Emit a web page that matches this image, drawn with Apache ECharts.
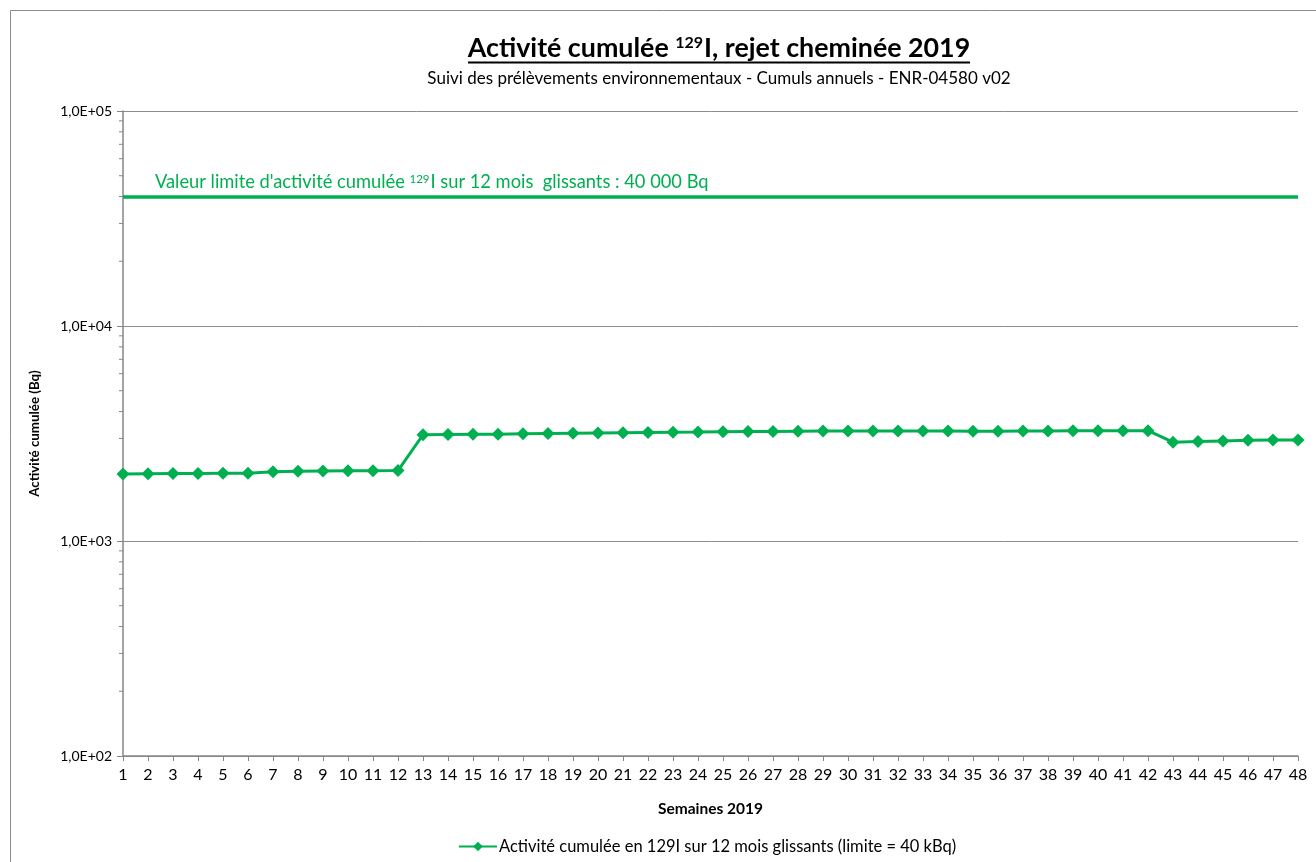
<!DOCTYPE html>
<html>
<head>
<meta charset="utf-8">
<script src="https://cdn.jsdelivr.net/npm/echarts@6/dist/echarts.min.js"></script>
<style>html,body{margin:0;padding:0;background:#fff}#c{width:1316px;height:862px}</style>
</head>
<body>
<div id="c"></div>
<script>
var weeks = [];
for (var i = 1; i <= 48; i++) weeks.push(String(i));
var activity = [2050, 2055, 2060, 2060, 2065, 2065, 2100, 2110, 2115, 2120, 2120, 2125,
  3120, 3130, 3135, 3140, 3150, 3160, 3170, 3180, 3190, 3200, 3205, 3210, 3220, 3230,
  3235, 3240, 3245, 3245, 3245, 3245, 3250, 3245, 3240, 3240, 3245, 3250, 3255, 3255,
  3255, 3260, 2880, 2900, 2920, 2940, 2950, 2950];
var limitValue = 40000;
var minorTickValues = [200, 300, 400, 500, 600, 700, 800, 900,
  2000, 3000, 4000, 5000, 6000, 7000, 8000, 9000,
  20000, 30000, 40000, 50000, 60000, 70000, 80000, 90000];

var GREEN = '#00B050';
var FONT = 'Lato, "Open Sans", sans-serif';
var chart = echarts.init(document.getElementById('c'));
chart.setOption({
  animation: false,
  textStyle: { fontFamily: FONT },
  graphic: [
    { type: 'rect', shape: { x: 10.5, y: 10.5, width: 1400, height: 1000 }, style: { fill: 'none', stroke: '#8c8c8c', lineWidth: 1 }, silent: true },
    { type: 'text', x: 719, y: 48,
      style: { text: '{b|Activité cumulée }{s|129}{b|I, rejet cheminée 2019}', align: 'center', verticalAlign: 'middle', rich: {
        b: { fontSize: 26.8, fontWeight: 'bold', fontFamily: FONT, fill: '#000' },
        s: { fontSize: 16, fontWeight: 'bold', fontFamily: FONT, fill: '#000', verticalAlign: 'top', lineHeight: 16, padding: [0, 1, 14, 0] }
      } } },
    { type: 'line', shape: { x1: 468, y1: 62.5, x2: 970, y2: 62.5 }, style: { stroke: '#000', lineWidth: 2 } },
    { type: 'text', x: 719, y: 79,
      style: { text: 'Suivi des prélèvements environnementaux - Cumuls annuels - ENR-04580 v02', align: 'center', verticalAlign: 'middle', fontSize: 17, fontFamily: FONT, fill: '#000' } }
  ],
  grid: { left: 123, right: 18, top: 111, bottom: 106, containLabel: false },
  legend: {
    bottom: 2, left: 453,
    data: ['Activité cumulée en 129I sur 12 mois glissants (limite = 40 kBq)'],
    itemWidth: 38, itemHeight: 12, itemGap: 1,
    textStyle: { fontSize: 16.5, color: '#000', fontFamily: FONT, padding: [0, 0, 0, -3] }
  },
  xAxis: {
    type: 'category', data: weeks, boundaryGap: false,
    name: 'Semaines 2019', nameLocation: 'middle', nameGap: 45,
    nameTextStyle: { fontSize: 15.5, fontWeight: 'bold', color: '#000' },
    axisLine: { lineStyle: { color: '#868686', width: 1.5 } },
    axisTick: { show: true, alignWithLabel: true, length: 5, lineStyle: { color: '#868686' } },
    axisLabel: { fontSize: 16, color: '#000', margin: 11, interval: 0 },
    splitLine: { show: false }
  },
  yAxis: {
    type: 'log', logBase: 10, min: 100, max: 100000,
    name: 'Activité cumulée (Bq)', nameLocation: 'middle', nameGap: 82,
    nameTextStyle: { fontSize: 13.3, fontWeight: 'bold', color: '#000' },
    axisLine: { show: true, lineStyle: { color: '#868686', width: 1.5 } },
    axisTick: { show: true, length: 6, lineStyle: { color: '#868686' } },
    axisLabel: { fontSize: 14, color: '#000', margin: 11,
      formatter: function (v) {
        var e = Math.round(Math.log10(v));
        return '1,0E+' + (e < 10 ? '0' + e : e);
      } },
    splitLine: { show: true, lineStyle: { color: '#8c8c8c', width: 1 } }
  },
  series: [
    {
      name: 'Activité cumulée en 129I sur 12 mois glissants (limite = 40 kBq)',
      type: 'line', data: activity,
      symbol: 'diamond', symbolSize: 13,
      itemStyle: { color: GREEN },
      lineStyle: { color: GREEN, width: 3 },
      markLine: {
        silent: true, symbol: 'none',
        lineStyle: { color: GREEN, width: 3.5, type: 'solid' },
        data: [{ yAxis: limitValue }],
        label: {
          show: true, position: 'insideStartTop', distance: [32, 5],
          formatter: '{t|Valeur limite d\'activité cumulée }{s|129}{t|I sur 12 mois  glissants : 40 000 Bq}',
          rich: {
            t: { fontSize: 18.3, color: GREEN, fontFamily: FONT },
            s: { fontSize: 11.5, color: GREEN, fontFamily: FONT, verticalAlign: 'top', lineHeight: 11, padding: [0, 1, 10, 0] }
          }
        }
      }
    },
    {
      name: 'minorTicks', type: 'custom', silent: true, clip: false,
      data: minorTickValues.map(function (v) { return [0, v]; }),
      encode: { x: 0, y: 1 },
      renderItem: function (params, api) {
        var p = api.coord([0, api.value(1)]);
        return { type: 'line', shape: { x1: p[0] - 4, y1: p[1], x2: p[0], y2: p[1] },
          style: { stroke: '#868686', lineWidth: 1 } };
      }
    }
  ]
});
</script>
</body>
</html>
